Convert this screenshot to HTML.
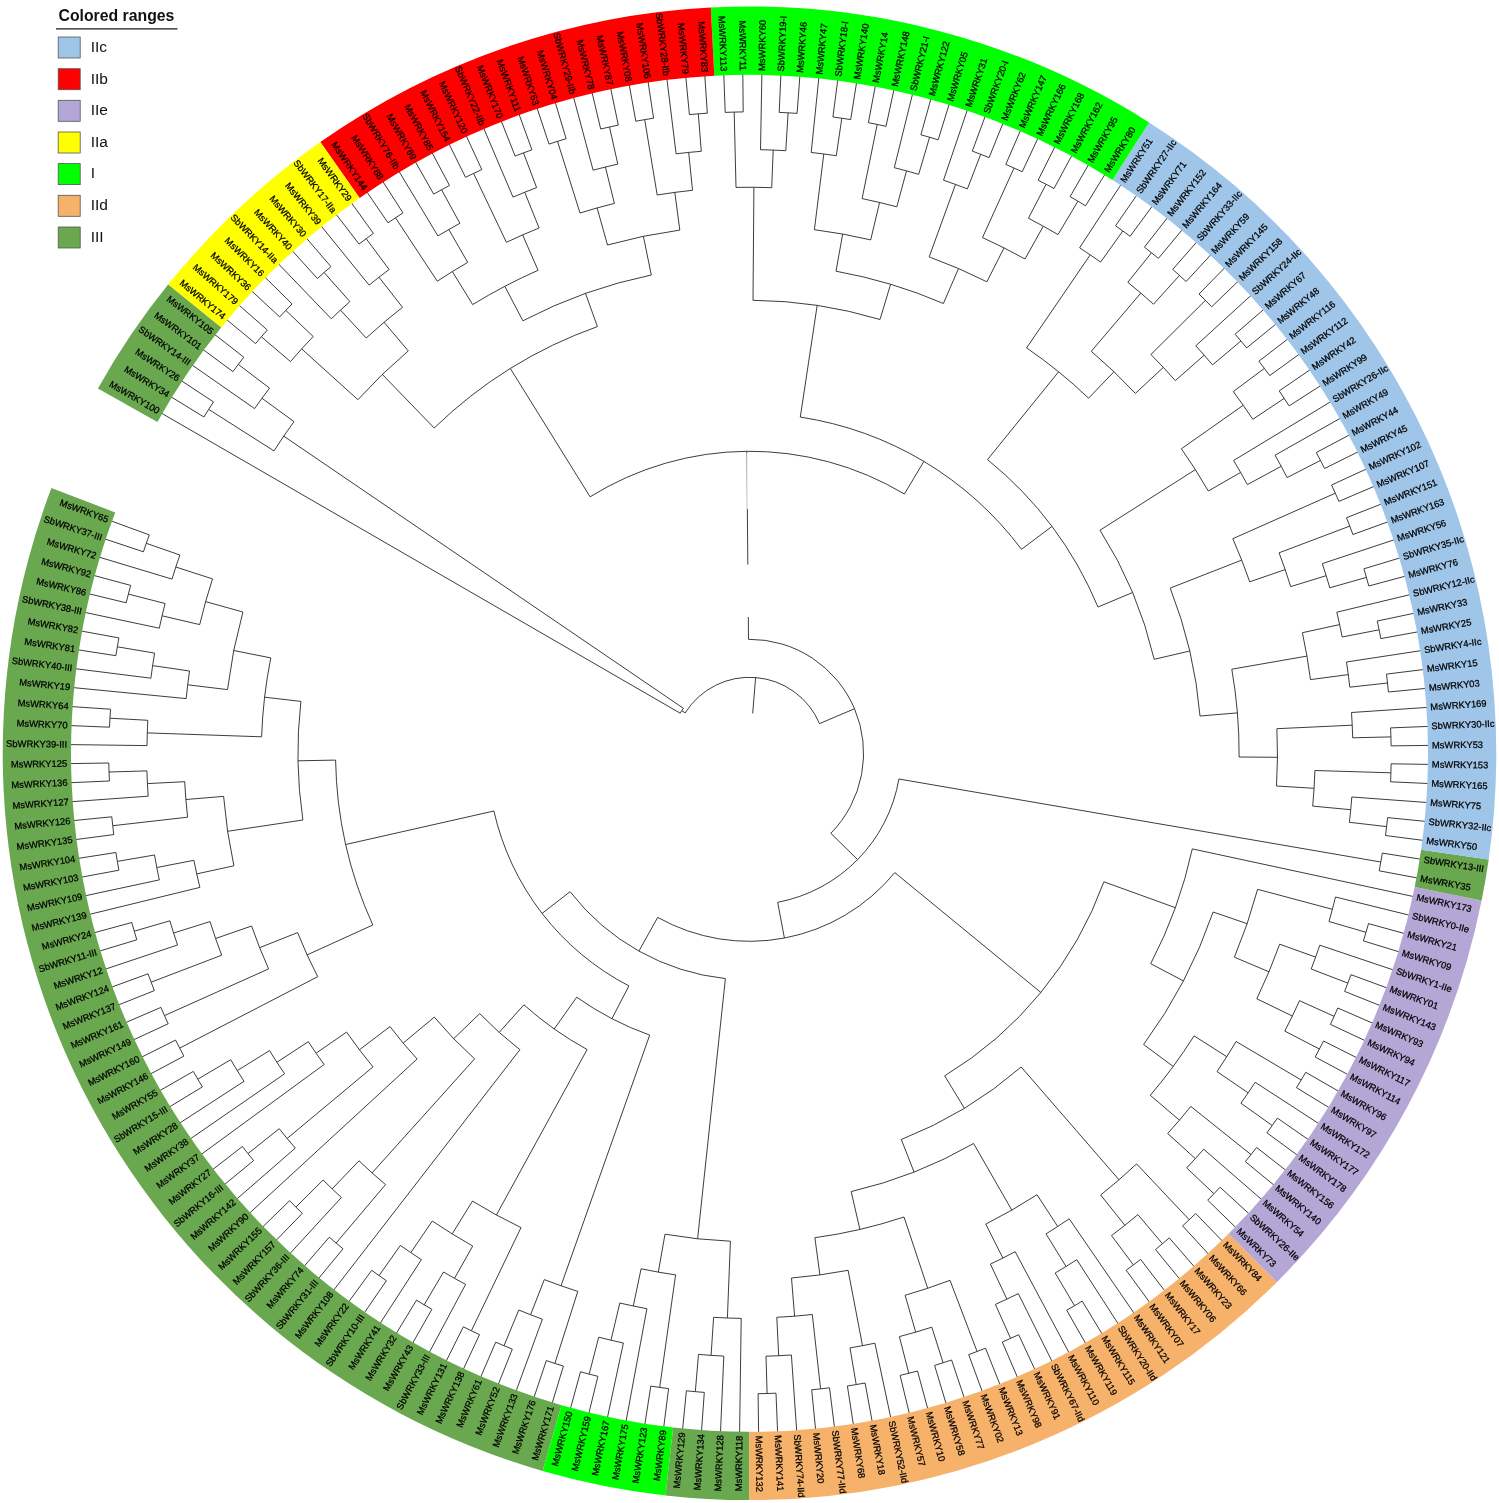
<!DOCTYPE html>
<html><head><meta charset="utf-8"><title>Phylogenetic tree</title>
<style>html,body{margin:0;padding:0;background:#fff}svg{display:block}text{font-family:"Liberation Sans",sans-serif}.lb{font-size:9.4px;fill:#000;stroke:#000;stroke-width:0.25px}.lg{font-size:15.5px;fill:#111}</style></head><body>
<svg width="1499" height="1503" viewBox="0 0 1499 1503">
<rect width="1499" height="1503" fill="#fff"/>
<path d="M143.4 551.8A638.8 638.8 0 0 1 149.3 534.9M149.3 534.9L111.0 520.9M143.4 551.8L104.7 538.9M172.0 579.1A603.2 603.2 0 0 1 179.9 555.0M179.9 555.0L146.3 543.3M172.0 579.1L99.0 557.1M126.2 602.8A641.2 641.2 0 0 1 130.7 585.4M130.7 585.4L93.7 575.4M126.2 602.8L89.0 593.8M159.3 628.2A603.3 603.3 0 0 1 165.1 603.5M165.1 603.5L128.4 594.1M159.3 628.2L84.8 612.4M199.7 624.6A564.6 564.6 0 0 1 212.5 578.9M212.5 578.9L175.8 567.0M199.7 624.6L162.1 615.8M115.9 655.7A641.1 641.1 0 0 1 118.9 637.9M118.9 637.9L81.1 631.0M115.9 655.7L77.9 649.8M150.9 678.2A603.3 603.3 0 0 1 154.6 653.1M154.6 653.1L117.3 646.8M150.9 678.2L75.3 668.7M186.2 698.6A566.0 566.0 0 0 1 189.5 671.0M189.5 671.0L152.6 665.6M186.2 698.6L73.2 687.6M227.5 689.6A525.9 525.9 0 0 1 242.9 612.0M242.9 612.0L205.6 601.6M227.5 689.6L187.7 684.8M109.5 727.2A640.6 640.6 0 0 1 110.5 709.2M110.5 709.2L71.6 706.6M109.5 727.2L70.6 725.6M147.0 745.6A602.6 602.6 0 0 1 147.8 720.3M147.8 720.3L109.9 718.2M147.0 745.6L70.1 744.6M261.6 736.8A488.1 488.1 0 0 1 270.8 657.9M270.8 657.9L233.7 650.5M261.6 736.8L147.3 732.9M109.4 781.0A640.7 640.7 0 0 1 108.8 763.0M108.8 763.0L70.1 763.6M109.4 781.0L70.6 782.7M148.2 796.2A602.8 602.8 0 0 1 146.9 770.9M146.9 770.9L109.0 772.0M148.2 796.2L71.7 801.7M113.8 834.6A640.9 640.9 0 0 1 111.8 816.8M111.8 816.8L73.3 820.6M113.8 834.6L75.5 839.6M187.6 817.2A565.5 565.5 0 0 1 184.7 781.7M184.7 781.7L147.4 783.6M187.6 817.2L112.8 825.7M118.9 870.2A641.3 641.3 0 0 1 115.9 852.5M115.9 852.5L78.2 858.4M118.9 870.2L81.4 877.2M159.3 879.9A603.6 603.6 0 0 1 154.5 855.0M154.5 855.0L117.4 861.4M159.3 879.9L85.1 895.8M199.9 887.4A565.8 565.8 0 0 1 193.9 860.3M193.9 860.3L156.8 867.5M199.9 887.4L89.4 914.4M233.9 865.8A527.7 527.7 0 0 1 223.6 796.4M223.6 796.4L185.9 799.5M233.9 865.8L196.7 873.9M302.9 820.0A451.6 451.6 0 0 1 300.9 701.4M300.9 701.4L264.6 697.2M302.9 820.0L227.6 831.3M136.8 939.8A640.5 640.5 0 0 1 131.8 922.5M131.8 922.5L94.1 932.8M136.8 939.8L99.4 951.1M177.5 945.0A603.3 603.3 0 0 1 169.9 920.8M169.9 920.8L134.2 931.2M177.5 945.0L105.2 969.2M154.4 990.6A640.7 640.7 0 0 1 148.0 973.8M148.0 973.8L111.5 987.2M154.4 990.6L118.3 1005.0M221.7 955.2A565.1 565.1 0 0 1 210.0 921.6M210.0 921.6L173.6 933.0M221.7 955.2L151.1 982.2M168.2 1023.8A641.1 641.1 0 0 1 160.9 1007.4M160.9 1007.4L125.6 1022.6M168.2 1023.8L133.4 1039.9M268.6 968.9A527.0 527.0 0 0 1 251.6 926.0M251.6 926.0L215.6 938.5M268.6 968.9L164.5 1015.6M183.9 1056.1A641.6 641.6 0 0 1 175.6 1040.1M175.6 1040.1L141.7 1057.1M183.9 1056.1L150.4 1074.0M317.7 976.7A486.2 486.2 0 0 1 297.6 932.6M297.6 932.6L259.6 947.7M317.7 976.7L179.7 1048.1M372.8 925.0A414.0 414.0 0 0 1 335.6 760.1M335.6 760.1L298.0 760.8M372.8 925.0L307.1 954.9M202.4 1086.9A640.8 640.8 0 0 1 193.3 1071.4M193.3 1071.4L159.7 1090.7M202.4 1086.9L169.3 1107.0M244.0 1081.3A602.5 602.5 0 0 1 230.7 1059.7M230.7 1059.7L197.8 1079.2M244.0 1081.3L179.5 1123.2M284.6 1073.8A564.6 564.6 0 0 1 269.5 1050.6M269.5 1050.6L237.3 1070.6M284.6 1073.8L190.1 1139.0M324.1 1064.5A527.1 527.1 0 0 1 308.3 1041.7M308.3 1041.7L276.9 1062.3M324.1 1064.5L201.1 1154.5M253.6 1160.6A641.7 641.7 0 0 1 242.4 1146.5M242.4 1146.5L212.5 1169.7M253.6 1160.6L224.4 1184.6M295.3 1148.1A601.8 601.8 0 0 1 279.2 1128.7M279.2 1128.7L248.0 1153.6M295.3 1148.1L236.7 1199.1M373.0 1066.9A490.0 490.0 0 0 1 346.6 1032.1M346.6 1032.1L316.1 1053.2M373.0 1066.9L287.1 1138.5M417.1 1059.0A451.6 451.6 0 0 1 390.0 1026.6M390.0 1026.6L359.4 1049.8M417.1 1059.0L249.4 1213.3M302.3 1213.4A641.6 641.6 0 0 1 289.6 1200.7M289.6 1200.7L262.5 1227.1M302.3 1213.4L275.9 1240.6M341.4 1197.5A603.3 603.3 0 0 1 323.1 1180.0M323.1 1180.0L295.9 1207.1M341.4 1197.5L289.8 1253.7M343.0 1248.8A640.9 640.9 0 0 1 329.3 1237.2M329.3 1237.2L304.0 1266.4M343.0 1248.8L318.5 1278.6M385.5 1184.6A564.4 564.4 0 0 1 359.0 1160.8M359.0 1160.8L332.1 1188.9M385.5 1184.6L336.1 1243.1M474.6 1058.9A411.0 411.0 0 0 1 434.3 1017.1M434.3 1017.1L403.2 1043.1M474.6 1058.9L372.1 1172.9M519.9 1049.7A374.9 374.9 0 0 1 479.7 1013.6M479.7 1013.6L453.7 1038.7M519.9 1049.7L333.4 1290.5M386.4 1280.7A640.3 640.3 0 0 1 371.7 1270.3M371.7 1270.3L348.6 1302.0M386.4 1280.7L364.2 1313.0M421.4 1259.6A603.3 603.3 0 0 1 400.4 1245.4M400.4 1245.4L379.0 1275.6M421.4 1259.6L380.0 1323.5M431.9 1309.3A640.3 640.3 0 0 1 416.5 1300.2M416.5 1300.2L396.1 1333.7M431.9 1309.3L412.5 1343.3M465.6 1284.4A602.3 602.3 0 0 1 443.5 1272.0M443.5 1272.0L424.2 1304.8M465.6 1284.4L429.2 1352.6M472.7 1246.0A565.1 565.1 0 0 1 432.3 1221.0M432.3 1221.0L410.8 1252.6M472.7 1246.0L454.5 1278.4M479.5 1334.6A640.9 640.9 0 0 1 463.3 1326.8M463.3 1326.8L446.1 1361.3M479.5 1334.6L463.2 1369.6M521.0 1227.6A526.5 526.5 0 0 1 472.5 1201.1M472.5 1201.1L452.2 1233.9M521.0 1227.6L471.4 1330.7M587.1 1049.5A337.8 337.8 0 0 1 523.9 1004.8M523.9 1004.8L499.2 1032.4M587.1 1049.5L496.4 1215.0M512.3 1349.1A641.3 641.3 0 0 1 495.7 1342.2M495.7 1342.2L480.6 1377.3M512.3 1349.1L498.2 1384.6M542.4 1319.2A602.6 602.6 0 0 1 518.8 1310.0M518.8 1310.0L504.0 1345.7M542.4 1319.2L516.0 1391.4M563.4 1366.1A640.4 640.4 0 0 1 546.3 1360.6M546.3 1360.6L533.9 1397.7M563.4 1366.1L552.1 1403.5M577.8 1291.4A564.9 564.9 0 0 1 544.3 1279.6M544.3 1279.6L530.6 1314.7M577.8 1291.4L554.9 1363.4M649.7 1035.1A298.9 298.9 0 0 1 576.7 997.2M576.7 997.2L554.2 1029.0M649.7 1035.1L561.0 1285.8M628.9 985.9A262.0 262.0 0 0 1 493.9 811.0M493.9 811.0L345.7 844.5M628.9 985.9L611.9 1018.7M597.9 1376.3A641.2 641.2 0 0 1 580.5 1371.8M580.5 1371.8L570.4 1408.8M597.9 1376.3L588.8 1413.5M623.4 1343.0A603.0 603.0 0 0 1 598.7 1337.2M598.7 1337.2L589.2 1374.1M623.4 1343.0L607.4 1417.8M646.9 1308.7A564.8 564.8 0 0 1 619.8 1303.0M619.8 1303.0L611.0 1340.2M646.9 1308.7L626.0 1421.5M668.6 1388.6A640.5 640.5 0 0 1 650.8 1386.1M650.8 1386.1L644.8 1424.7M668.6 1388.6L663.7 1427.4M675.6 1274.9A526.8 526.8 0 0 1 641.1 1268.8M641.1 1268.8L633.3 1306.0M675.6 1274.9L659.7 1387.4M704.3 1392.4A640.7 640.7 0 0 1 686.4 1390.8M686.4 1390.8L682.6 1429.5M704.3 1392.4L701.5 1431.1M723.8 1356.1A603.3 603.3 0 0 1 698.5 1354.4M698.5 1354.4L695.3 1391.7M723.8 1356.1L720.5 1432.2M741.2 1318.4A565.1 565.1 0 0 1 713.6 1317.3M713.6 1317.3L711.1 1355.4M741.2 1318.4L739.6 1432.7M730.4 1241.2A488.2 488.2 0 0 1 665.0 1234.2M665.0 1234.2L658.3 1272.1M730.4 1241.2L727.4 1318.0M725.4 978.6A226.6 226.6 0 0 1 570.1 891.7M570.1 891.7L542.1 913.4M725.4 978.6L697.6 1238.8M776.0 1393.2A640.5 640.5 0 0 1 758.1 1393.7M758.1 1393.7L758.6 1432.7M776.0 1393.2L777.6 1432.2M791.4 1355.0A603.1 603.1 0 0 1 766.0 1356.2M766.0 1356.2L767.1 1393.5M791.4 1355.0L796.7 1431.2M829.5 1387.8A639.6 639.6 0 0 1 811.7 1389.8M811.7 1389.8L815.6 1429.6M829.5 1387.8L834.5 1427.5M812.3 1314.5A564.7 564.7 0 0 1 776.8 1317.3M776.8 1317.3L778.7 1355.7M812.3 1314.5L820.6 1388.9M865.1 1383.0A640.2 640.2 0 0 1 847.4 1386.0M847.4 1386.0L853.4 1424.8M865.1 1383.0L872.2 1421.6M874.9 1343.2A603.1 603.1 0 0 1 850.0 1347.9M850.0 1347.9L856.2 1384.5M874.9 1343.2L890.8 1417.9M848.1 1270.3A526.3 526.3 0 0 1 791.5 1278.0M791.5 1278.0L794.6 1316.2M848.1 1270.3L862.5 1345.7M917.5 1371.0A640.1 640.1 0 0 1 900.1 1375.4M900.1 1375.4L909.4 1413.7M917.5 1371.0L927.8 1409.0M951.6 1360.0A639.5 639.5 0 0 1 934.6 1365.4M934.6 1365.4L946.1 1403.7M951.6 1360.0L964.3 1398.0M931.8 1327.2A602.2 602.2 0 0 1 899.4 1336.6M899.4 1336.6L908.8 1373.3M931.8 1327.2L943.1 1362.8M985.5 1348.2A640.0 640.0 0 0 1 968.7 1354.6M968.7 1354.6L982.3 1391.7M985.5 1348.2L1000.1 1384.9M950.0 1280.3A563.9 563.9 0 0 1 905.1 1295.3M905.1 1295.3L915.7 1332.1M950.0 1280.3L977.1 1351.5M904.0 1217.0A488.8 488.8 0 0 1 814.9 1237.7M814.9 1237.7L819.9 1274.9M904.0 1217.0L927.7 1288.3M1018.7 1334.7A640.7 640.7 0 0 1 1002.3 1342.0M1002.3 1342.0L1017.6 1377.7M1018.7 1334.7L1035.0 1369.9M1018.3 1293.6A603.5 603.5 0 0 1 995.4 1304.4M995.4 1304.4L1010.6 1338.4M1018.3 1293.6L1052.2 1361.7M1015.2 1251.7A564.8 564.8 0 0 1 990.4 1264.1M990.4 1264.1L1006.9 1299.1M1015.2 1251.7L1069.1 1352.9M1082.2 1301.1A640.9 640.9 0 0 1 1066.7 1310.2M1066.7 1310.2L1085.8 1343.7M1082.2 1301.1L1102.2 1334.1M1076.8 1259.7A603.0 603.0 0 0 1 1055.2 1273.0M1055.2 1273.0L1074.5 1305.7M1076.8 1259.7L1118.3 1324.0M1069.2 1218.8A564.7 564.7 0 0 1 1046.0 1233.9M1046.0 1233.9L1066.1 1266.5M1069.2 1218.8L1134.2 1313.4M1037.0 1194.7A526.7 526.7 0 0 1 985.8 1224.1M985.8 1224.1L1002.9 1258.1M1037.0 1194.7L1057.7 1226.5M973.6 1143.5A450.0 450.0 0 0 1 851.2 1191.6M851.2 1191.6L859.9 1229.4M973.6 1143.5L1011.8 1210.1M1140.6 1259.4A639.6 639.6 0 0 1 1126.2 1270.2M1126.2 1270.2L1149.7 1302.4M1140.6 1259.4L1164.9 1291.0M1169.3 1237.9A641.1 641.1 0 0 1 1155.5 1249.5M1155.5 1249.5L1179.8 1279.2M1169.3 1237.9L1194.4 1266.9M1137.9 1214.6A603.1 603.1 0 0 1 1111.5 1235.6M1111.5 1235.6L1133.4 1264.9M1137.9 1214.6L1162.4 1243.7M1195.7 1213.5A641.0 641.0 0 0 1 1182.6 1225.9M1182.6 1225.9L1208.6 1254.2M1195.7 1213.5L1222.5 1241.2M1136.6 1163.9A564.3 564.3 0 0 1 1100.7 1195.0M1100.7 1195.0L1124.9 1225.3M1136.6 1163.9L1189.2 1219.7M1021.2 1067.0A415.0 415.0 0 0 1 901.3 1139.5M901.3 1139.5L914.1 1172.1M1021.2 1067.0L1119.0 1179.8M1220.1 1187.2A640.1 640.1 0 0 1 1207.7 1200.2M1207.7 1200.2L1236.0 1227.7M1220.1 1187.2L1249.1 1213.9M1203.7 1149.2A602.5 602.5 0 0 1 1186.7 1167.9M1186.7 1167.9L1213.9 1193.7M1203.7 1149.2L1261.8 1199.7M1256.6 1147.5A642.3 642.3 0 0 1 1245.3 1161.6M1245.3 1161.6L1274.1 1185.2M1256.6 1147.5L1286.0 1170.4M1190.8 1106.4A565.2 565.2 0 0 1 1167.7 1133.5M1167.7 1133.5L1195.3 1158.6M1190.8 1106.4L1251.0 1154.6M1277.4 1118.1A641.7 641.7 0 0 1 1266.9 1132.8M1266.9 1132.8L1297.4 1155.2M1277.4 1118.1L1308.5 1139.7M1255.2 1082.3A603.2 603.2 0 0 1 1240.9 1103.2M1240.9 1103.2L1272.2 1125.5M1255.2 1082.3L1319.1 1123.8M1305.7 1072.3A641.2 641.2 0 0 1 1296.5 1087.7M1296.5 1087.7L1329.2 1107.7M1305.7 1072.3L1338.9 1091.4M1236.1 1041.5A565.6 565.6 0 0 1 1217.0 1071.6M1217.0 1071.6L1248.1 1092.8M1236.1 1041.5L1301.2 1080.0M1194.1 1035.9A526.8 526.8 0 0 1 1150.3 1095.3M1150.3 1095.3L1179.4 1120.1M1194.1 1035.9L1226.8 1056.7M1323.5 1041.0A642.0 642.0 0 0 1 1315.2 1057.0M1315.2 1057.0L1348.2 1074.7M1323.5 1041.0L1356.9 1057.8M1337.8 1008.0A641.1 641.1 0 0 1 1330.4 1024.4M1330.4 1024.4L1365.2 1040.7M1337.8 1008.0L1373.0 1023.3M1299.5 1000.7A603.0 603.0 0 0 1 1284.8 1031.1M1284.8 1031.1L1319.4 1049.0M1299.5 1000.7L1334.1 1016.3M1351.0 974.7A640.9 640.9 0 0 1 1344.6 991.4M1344.6 991.4L1380.4 1005.7M1351.0 974.7L1387.2 988.0M1319.8 945.2A601.7 601.7 0 0 1 1311.2 969.0M1311.2 969.0L1347.8 983.1M1319.8 945.2L1393.5 970.0M1279.7 944.2A563.6 563.6 0 0 1 1256.8 998.8M1256.8 998.8L1292.3 1016.0M1279.7 944.2L1315.6 957.1M1368.5 923.6A642.0 642.0 0 0 1 1363.4 940.9M1363.4 940.9L1399.3 951.9M1368.5 923.6L1404.6 933.6M1335.5 897.0A603.4 603.4 0 0 1 1329.0 921.5M1329.0 921.5L1366.0 932.3M1335.5 897.0L1409.4 915.2M1257.6 889.3A526.0 526.0 0 0 1 1234.4 957.2M1234.4 957.2L1269.0 971.8M1257.6 889.3L1332.4 909.3M1213.1 912.0A490.0 490.0 0 0 1 1143.6 1044.5M1143.6 1044.5L1173.2 1066.4M1213.1 912.0L1247.2 923.7M1192.3 848.9A453.0 453.0 0 0 1 1150.7 963.7M1150.7 963.7L1183.4 980.9M1192.3 848.9L1413.7 896.6M1103.9 881.8A377.0 377.0 0 0 1 944.7 1075.8M944.7 1075.8L964.4 1108.3M1103.9 881.8L1175.4 907.7M894.8 872.6A188.0 188.0 0 0 1 657.7 917.4M657.7 917.4L638.9 951.1M894.8 872.6L1040.9 992.5M1382.3 853.1A640.6 640.6 0 0 1 1379.2 870.8M1379.2 870.8L1417.5 878.0M1382.3 853.1L1420.7 859.2M898.9 779.0A151.6 151.6 0 0 1 777.7 902.3M777.7 902.3L784.4 938.0M898.9 779.0L1380.8 862.0M1387.6 817.6A641.3 641.3 0 0 1 1385.5 835.5M1385.5 835.5L1423.4 840.4M1387.6 817.6L1425.6 821.4M1351.8 797.0A603.8 603.8 0 0 1 1349.4 822.3M1349.4 822.3L1386.6 826.6M1351.8 797.0L1427.2 802.5M1391.1 763.8A641.7 641.7 0 0 1 1390.6 781.8M1390.6 781.8L1428.3 783.5M1391.1 763.8L1428.9 764.4M1314.9 770.5A565.7 565.7 0 0 1 1312.7 806.1M1312.7 806.1L1350.7 809.7M1314.9 770.5L1390.9 772.8M1390.6 727.9A641.6 641.6 0 0 1 1391.1 745.9M1391.1 745.9L1429.0 745.4M1390.6 727.9L1428.5 726.4M1351.5 712.5A603.4 603.4 0 0 1 1352.7 737.8M1352.7 737.8L1390.9 736.9M1351.5 712.5L1427.4 707.4M1276.9 728.7A528.0 528.0 0 0 1 1276.5 786.0M1276.5 786.0L1314.1 788.3M1276.9 728.7L1352.2 725.2M1386.5 674.1A641.9 641.9 0 0 1 1388.4 692.0M1388.4 692.0L1425.9 688.4M1386.5 674.1L1423.8 669.5M1346.5 662.0A603.9 603.9 0 0 1 1349.8 687.2M1349.8 687.2L1387.5 683.0M1346.5 662.0L1421.2 650.6M1377.3 621.0A641.6 641.6 0 0 1 1380.8 638.6M1380.8 638.6L1418.1 631.8M1377.3 621.0L1414.4 613.2M1336.8 612.2A604.0 604.0 0 0 1 1342.2 637.0M1342.2 637.0L1379.1 629.8M1336.8 612.2L1410.2 594.6M1302.4 632.7A565.9 565.9 0 0 1 1310.5 679.6M1310.5 679.6L1348.3 674.6M1302.4 632.7L1339.6 624.6M1231.8 669.2A489.6 489.6 0 0 1 1239.1 757.0M1239.1 757.0L1277.5 757.3M1231.8 669.2L1306.9 656.1M1363.9 568.8A641.5 641.5 0 0 1 1368.8 586.0M1368.8 586.0L1405.5 576.1M1363.9 568.8L1400.3 557.8M1322.3 563.6A603.4 603.4 0 0 1 1329.8 587.8M1329.8 587.8L1366.4 577.4M1322.3 563.6L1394.5 539.7M1346.5 517.7A641.8 641.8 0 0 1 1352.9 534.5M1352.9 534.5L1388.3 521.7M1346.5 517.7L1381.6 503.9M1279.1 552.8A566.3 566.3 0 0 1 1290.7 586.6M1290.7 586.6L1326.1 575.7M1279.1 552.8L1349.8 526.1M1331.6 485.0A641.0 641.0 0 0 1 1338.9 501.4M1338.9 501.4L1374.3 486.3M1331.6 485.0L1366.6 468.9M1232.8 538.7A528.8 528.8 0 0 1 1249.7 581.8M1249.7 581.8L1285.2 569.6M1232.8 538.7L1335.3 493.2M1170.2 588.1A452.0 452.0 0 0 1 1200.0 716.0M1200.0 716.0L1237.5 712.9M1170.2 588.1L1241.7 560.1M1316.3 452.5A641.7 641.7 0 0 1 1324.6 468.5M1324.6 468.5L1358.4 451.7M1316.3 452.5L1349.7 434.8M1275.1 455.2A604.2 604.2 0 0 1 1287.1 477.6M1287.1 477.6L1320.5 460.4M1275.1 455.2L1340.6 418.1M1233.6 460.5A565.8 565.8 0 0 1 1247.4 484.6M1247.4 484.6L1281.2 466.3M1233.6 460.5L1330.9 401.6M1279.2 390.9A641.8 641.8 0 0 1 1289.1 405.9M1289.1 405.9L1320.9 385.5M1279.2 390.9L1310.3 369.6M1258.9 361.2A642.8 642.8 0 0 1 1269.7 375.6M1269.7 375.6L1299.4 354.1M1258.9 361.2L1288.0 338.8M1233.3 391.6A604.1 604.1 0 0 1 1252.8 419.3M1252.8 419.3L1284.2 398.4M1233.3 391.6L1264.3 368.4M1181.4 448.8A528.5 528.5 0 0 1 1208.3 491.0M1208.3 491.0L1240.7 472.4M1181.4 448.8L1243.2 405.3M1100.0 530.2A415.5 415.5 0 0 1 1154.2 659.3M1154.2 659.3L1189.8 651.0M1100.0 530.2L1195.4 469.6M1235.1 334.2A641.5 641.5 0 0 1 1246.7 347.9M1246.7 347.9L1276.1 323.9M1235.1 334.2L1263.9 309.3M1195.8 345.8A604.3 604.3 0 0 1 1212.5 364.9M1212.5 364.9L1240.9 341.0M1195.8 345.8L1251.3 295.1M1199.0 294.0A642.6 642.6 0 0 1 1211.7 306.8M1211.7 306.8L1238.2 281.2M1199.0 294.0L1224.8 267.7M1150.9 354.5A565.8 565.8 0 0 1 1175.3 380.6M1175.3 380.6L1204.2 355.2M1150.9 354.5L1205.4 300.4M1172.7 269.4A642.9 642.9 0 0 1 1186.1 281.5M1186.1 281.5L1211.0 254.6M1172.7 269.4L1196.9 241.8M1144.4 247.2A642.0 642.0 0 0 1 1158.4 258.4M1158.4 258.4L1182.4 229.5M1144.4 247.2L1167.5 217.6M1127.8 282.3A604.1 604.1 0 0 1 1153.5 304.2M1153.5 304.2L1179.5 275.4M1127.8 282.3L1151.5 252.8M1091.3 351.3A527.7 527.7 0 0 1 1135.4 393.4M1135.4 393.4L1163.3 367.4M1091.3 351.3L1140.8 293.1M1115.5 225.8A642.0 642.0 0 0 1 1130.1 236.3M1130.1 236.3L1152.3 206.1M1115.5 225.8L1136.9 195.0M1079.6 247.8A603.8 603.8 0 0 1 1100.6 262.1M1100.6 262.1L1122.8 231.0M1079.6 247.8L1121.1 184.4M1026.6 347.9A491.0 491.0 0 0 1 1088.6 398.2M1088.6 398.2L1114.0 371.7M1026.6 347.9L1090.2 254.9M987.5 459.6A378.0 378.0 0 0 1 1098.0 607.0M1098.0 607.0L1132.6 592.5M987.5 459.6L1058.6 371.8M1070.1 196.6A642.4 642.4 0 0 1 1085.6 205.8M1085.6 205.8L1105.0 174.2M1070.1 196.6L1088.6 164.5M1038.1 180.2A641.7 641.7 0 0 1 1054.0 188.5M1054.0 188.5L1072.0 155.2M1038.1 180.2L1055.1 146.4M1028.4 218.2A603.5 603.5 0 0 1 1058.0 234.6M1058.0 234.6L1077.9 201.2M1028.4 218.2L1046.1 184.3M1005.8 164.4A642.2 642.2 0 0 1 1022.2 171.8M1022.2 171.8L1038.0 138.1M1005.8 164.4L1020.6 130.2M982.5 237.6A565.9 565.9 0 0 1 1025.0 259.0M1025.0 259.0L1043.3 226.2M982.5 237.6L1014.0 168.1M972.3 151.1A642.1 642.1 0 0 1 989.1 157.6M989.1 157.6L1003.1 122.9M972.3 151.1L985.3 116.0M943.5 180.2A605.0 605.0 0 0 1 967.4 188.9M967.4 188.9L980.7 154.3M943.5 180.2L967.4 109.7M929.2 256.9A527.9 527.9 0 0 1 986.9 281.8M986.9 281.8L1004.0 247.9M929.2 256.9L955.5 184.4M920.9 134.8A641.9 641.9 0 0 1 938.2 139.8M938.2 139.8L949.3 103.8M920.9 134.8L931.0 98.5M894.3 167.7A603.2 603.2 0 0 1 918.7 174.3M918.7 174.3L929.6 137.2M894.3 167.7L912.6 93.7M868.4 122.7A641.7 641.7 0 0 1 886.0 126.3M886.0 126.3L894.0 89.3M868.4 122.7L875.4 85.6M862.1 198.6A566.0 566.0 0 0 1 896.8 206.8M896.8 206.8L906.5 170.9M862.1 198.6L877.2 124.5M832.9 117.0A641.7 641.7 0 0 1 850.7 119.6M850.7 119.6L856.6 82.3M832.9 117.0L837.8 79.6M811.2 152.5A603.9 603.9 0 0 1 836.3 155.7M836.3 155.7L841.8 118.2M811.2 152.5L818.9 77.3M814.4 229.7A527.6 527.6 0 0 1 870.7 239.9M870.7 239.9L879.6 202.4M814.4 229.7L823.8 154.0M836.0 271.2A489.8 489.8 0 0 1 943.4 303.5M943.4 303.5L958.5 268.5M836.0 271.2L842.7 234.0M779.2 112.4A641.6 641.6 0 0 1 797.1 113.4M797.1 113.4L799.9 75.7M779.2 112.4L780.9 74.5M760.5 149.7A603.7 603.7 0 0 1 785.8 150.7M785.8 150.7L788.1 112.8M760.5 149.7L761.9 73.9M725.2 112.4A641.4 641.4 0 0 1 743.2 111.9M743.2 111.9L742.8 73.8M725.2 112.4L723.8 74.3M736.0 187.4A566.0 566.0 0 0 1 771.7 187.7M771.7 187.7L773.2 150.1M736.0 187.4L734.2 112.1M753.0 300.3A453.1 453.1 0 0 1 880.0 319.5M880.0 319.5L890.6 284.3M753.0 300.3L753.9 187.3M800.3 417.1A340.0 340.0 0 0 1 1021.5 549.3M1021.5 549.3L1051.9 526.5M800.3 417.1L817.2 305.3M689.4 114.6A641.5 641.5 0 0 1 707.3 113.2M707.3 113.2L704.8 75.3M689.4 114.6L685.8 76.8M676.1 153.8A603.9 603.9 0 0 1 701.3 151.3M701.3 151.3L698.3 113.8M676.1 153.8L666.9 78.8M635.8 121.2A642.3 642.3 0 0 1 653.6 118.2M653.6 118.2L648.0 81.4M635.8 121.2L629.2 84.5M657.2 195.0A565.8 565.8 0 0 1 692.5 190.3M692.5 190.3L688.7 152.4M657.2 195.0L644.7 119.6M600.7 129.0A641.8 641.8 0 0 1 618.3 125.1M618.3 125.1L610.6 88.2M600.7 129.0L592.0 92.3M593.1 170.2A603.7 603.7 0 0 1 617.8 164.1M617.8 164.1L609.5 127.0M593.1 170.2L573.5 97.0M549.0 144.1A641.4 641.4 0 0 1 566.1 138.7M566.1 138.7L555.2 102.2M549.0 144.1L537.0 107.9M580.0 213.0A566.3 566.3 0 0 1 614.4 203.4M614.4 203.4L605.4 167.0M580.0 213.0L557.5 141.3M607.5 245.0A527.8 527.8 0 0 1 679.8 230.1M679.8 230.1L674.8 192.4M607.5 245.0L597.1 207.9M515.1 156.1A641.5 641.5 0 0 1 531.9 149.8M531.9 149.8L519.0 114.1M515.1 156.1L501.2 120.8M513.0 197.1A604.4 604.4 0 0 1 536.6 187.6M536.6 187.6L523.5 152.9M513.0 197.1L483.6 128.0M465.5 177.3A642.2 642.2 0 0 1 481.8 169.6M481.8 169.6L466.2 135.7M465.5 177.3L449.0 143.9M506.4 242.3A565.9 565.9 0 0 1 539.1 228.0M539.1 228.0L524.7 192.2M506.4 242.3L473.6 173.4M433.7 194.1A642.2 642.2 0 0 1 449.5 185.5M449.5 185.5L432.0 152.5M433.7 194.1L415.3 161.6M437.9 235.9A604.0 604.0 0 0 1 459.9 223.3M459.9 223.3L441.5 189.7M437.9 235.9L398.9 171.2M388.0 222.8A641.9 641.9 0 0 1 403.0 212.9M403.0 212.9L382.7 181.3M388.0 222.8L366.8 191.8M437.3 281.2A566.0 566.0 0 0 1 467.7 262.4M467.7 262.4L448.8 229.5M437.3 281.2L395.5 217.8M472.7 304.6A527.2 527.2 0 0 1 538.1 270.3M538.1 270.3L522.6 234.9M472.7 304.6L452.4 271.6M522.9 320.8A488.3 488.3 0 0 1 651.3 275.0M651.3 275.0L643.4 236.3M522.9 320.8L504.8 286.3M359.0 244.1A641.6 641.6 0 0 1 373.4 233.4M373.4 233.4L351.3 202.7M359.0 244.1L336.0 214.1M369.1 285.1A603.3 603.3 0 0 1 389.1 269.5M389.1 269.5L366.2 238.7M369.1 285.1L321.1 225.9M317.4 278.5A642.0 642.0 0 0 1 330.9 266.6M330.9 266.6L306.4 238.1M317.4 278.5L292.2 250.7M331.3 318.8A603.0 603.0 0 0 1 349.9 301.6M349.9 301.6L324.1 272.5M331.3 318.8L278.3 263.7M366.2 338.0A565.2 565.2 0 0 1 402.5 307.3M402.5 307.3L379.0 277.2M366.2 338.0L340.5 310.1M279.7 316.9A641.2 641.2 0 0 1 292.1 303.9M292.1 303.9L264.8 277.1M279.7 316.9L251.6 290.9M255.6 343.6A641.7 641.7 0 0 1 267.3 330.0M267.3 330.0L238.9 305.0M255.6 343.6L226.5 319.5M290.5 361.6A603.4 603.4 0 0 1 313.2 336.5M313.2 336.5L285.8 310.4M290.5 361.6L261.4 336.8M357.9 399.7A527.6 527.6 0 0 1 408.3 350.9M408.3 350.9L384.0 322.2M357.9 399.7L301.7 348.9M434.2 428.0A453.0 453.0 0 0 1 597.4 326.6M597.4 326.6L585.5 293.4M434.2 428.0L382.3 374.4M590.1 496.8A302.0 302.0 0 0 1 904.4 494.0M904.4 494.0L923.9 461.4M590.1 496.8L510.4 368.6M748.5 639.3A114.0 114.0 0 0 1 830.8 833.3M830.8 833.3L857.6 859.6M748.5 639.3L746.8 451.3M232.9 371.6A642.3 642.3 0 0 1 243.8 357.2M243.8 357.2L214.5 334.3M232.9 371.6L203.0 349.5M254.6 408.6A603.1 603.1 0 0 1 269.5 388.1M269.5 388.1L238.3 364.4M254.6 408.6L191.9 364.9M203.9 417.0A640.9 640.9 0 0 1 213.5 401.9M213.5 401.9L181.3 380.7M203.9 417.0L171.0 396.8M274.0 450.9A563.5 563.5 0 0 1 294.0 421.6M294.0 421.6L262.0 398.3M274.0 450.9L208.7 409.4M680.2 713.2A80.0 80.0 0 0 1 683.4 708.3M683.4 708.3L283.7 436.1M680.2 713.2L161.3 413.1M685.2 712.9A76.0 76.0 0 0 1 819.5 723.6M819.5 723.6L854.4 708.8M685.2 712.9L681.8 710.7M755.6 677.5L752.7 713.4" fill="none" stroke="#1a1a1a" stroke-width="0.85"/>
<path d="M748.5 453V509" stroke="#fff" stroke-width="4" opacity="0.8"/>
<path d="M749 564.5V617" stroke="#fff" stroke-width="4"/>
<path d="M542.6 1470.9A746.8 746.8 0 0 1 51.4 488.1L115.2 512.4A678.5 678.5 0 0 0 561.5 1405.2Z" fill="#6aa84f"/>
<path d="M665.5 1495.4A746.8 746.8 0 0 1 542.6 1470.9L561.5 1405.2A678.5 678.5 0 0 0 673.2 1427.5Z" fill="#00ff00"/>
<path d="M749.1 1500.1A746.8 746.8 0 0 1 665.5 1495.4L673.2 1427.5A678.5 678.5 0 0 0 749.1 1431.8Z" fill="#6aa84f"/>
<path d="M1276.8 1282.2A746.8 746.8 0 0 1 749.1 1500.1L749.1 1431.8A678.5 678.5 0 0 0 1228.6 1233.8Z" fill="#f6b26b"/>
<path d="M1481.6 900.6A746.8 746.8 0 0 1 1276.8 1282.2L1228.6 1233.8A678.5 678.5 0 0 0 1414.7 887.1Z" fill="#b4a7d6"/>
<path d="M1488.7 859.4A746.8 746.8 0 0 1 1481.6 900.6L1414.7 887.1A678.5 678.5 0 0 0 1421.1 849.7Z" fill="#6aa84f"/>
<path d="M1149.1 122.4A746.8 746.8 0 0 1 1488.7 859.4L1421.1 849.7A678.5 678.5 0 0 0 1112.5 180.1Z" fill="#9fc5e8"/>
<path d="M710.8 7.5A746.8 746.8 0 0 1 1149.1 122.4L1112.5 180.1A678.5 678.5 0 0 0 714.3 75.7Z" fill="#00ff00"/>
<path d="M320.3 142.1A746.8 746.8 0 0 1 710.8 7.5L714.3 75.7A678.5 678.5 0 0 0 359.6 198.0Z" fill="#ff0000"/>
<path d="M168.1 284.6A746.8 746.8 0 0 1 320.3 142.1L359.6 198.0A678.5 678.5 0 0 0 221.2 327.5Z" fill="#ffff00"/>
<path d="M97.9 388.5A746.8 746.8 0 0 1 168.1 284.6L221.2 327.5A678.5 678.5 0 0 0 157.4 421.9Z" fill="#6aa84f"/>
<g class="lb">
<text transform="translate(108.1 519.9) rotate(20.00)" text-anchor="end" dy="0.32em">MsWRKY65</text>
<text transform="translate(101.9 538.0) rotate(18.39)" text-anchor="end" dy="0.32em">SbWRKY37-III</text>
<text transform="translate(96.1 556.2) rotate(16.79)" text-anchor="end" dy="0.32em">MsWRKY72</text>
<text transform="translate(90.8 574.6) rotate(15.18)" text-anchor="end" dy="0.32em">MsWRKY92</text>
<text transform="translate(86.1 593.1) rotate(13.58)" text-anchor="end" dy="0.32em">MsWRKY86</text>
<text transform="translate(81.8 611.7) rotate(11.97)" text-anchor="end" dy="0.32em">SbWRKY38-III</text>
<text transform="translate(78.1 630.5) rotate(10.37)" text-anchor="end" dy="0.32em">MsWRKY82</text>
<text transform="translate(75.0 649.4) rotate(8.76)" text-anchor="end" dy="0.32em">MsWRKY81</text>
<text transform="translate(72.3 668.3) rotate(7.15)" text-anchor="end" dy="0.32em">SbWRKY40-III</text>
<text transform="translate(70.2 687.3) rotate(5.55)" text-anchor="end" dy="0.32em">MsWRKY19</text>
<text transform="translate(68.6 706.4) rotate(3.94)" text-anchor="end" dy="0.32em">MsWRKY64</text>
<text transform="translate(67.6 725.4) rotate(2.34)" text-anchor="end" dy="0.32em">MsWRKY70</text>
<text transform="translate(67.1 744.6) rotate(0.73)" text-anchor="end" dy="0.32em">SbWRKY39-III</text>
<text transform="translate(67.1 763.7) rotate(-0.87)" text-anchor="end" dy="0.32em">MsWRKY125</text>
<text transform="translate(67.6 782.8) rotate(-2.48)" text-anchor="end" dy="0.32em">MsWRKY136</text>
<text transform="translate(68.7 801.9) rotate(-4.08)" text-anchor="end" dy="0.32em">MsWRKY127</text>
<text transform="translate(70.4 820.9) rotate(-5.69)" text-anchor="end" dy="0.32em">MsWRKY126</text>
<text transform="translate(72.5 839.9) rotate(-7.29)" text-anchor="end" dy="0.32em">MsWRKY135</text>
<text transform="translate(75.2 858.9) rotate(-8.90)" text-anchor="end" dy="0.32em">MsWRKY104</text>
<text transform="translate(78.4 877.7) rotate(-10.50)" text-anchor="end" dy="0.32em">MsWRKY103</text>
<text transform="translate(82.2 896.5) rotate(-12.11)" text-anchor="end" dy="0.32em">MsWRKY109</text>
<text transform="translate(86.5 915.1) rotate(-13.71)" text-anchor="end" dy="0.32em">MsWRKY139</text>
<text transform="translate(91.3 933.6) rotate(-15.32)" text-anchor="end" dy="0.32em">MsWRKY24</text>
<text transform="translate(96.6 952.0) rotate(-16.92)" text-anchor="end" dy="0.32em">SbWRKY11-III</text>
<text transform="translate(102.4 970.2) rotate(-18.53)" text-anchor="end" dy="0.32em">MsWRKY12</text>
<text transform="translate(108.7 988.2) rotate(-20.14)" text-anchor="end" dy="0.32em">MsWRKY124</text>
<text transform="translate(115.5 1006.1) rotate(-21.74)" text-anchor="end" dy="0.32em">MsWRKY137</text>
<text transform="translate(122.9 1023.8) rotate(-23.35)" text-anchor="end" dy="0.32em">MsWRKY161</text>
<text transform="translate(130.7 1041.2) rotate(-24.95)" text-anchor="end" dy="0.32em">MsWRKY149</text>
<text transform="translate(139.0 1058.4) rotate(-26.56)" text-anchor="end" dy="0.32em">MsWRKY160</text>
<text transform="translate(147.8 1075.4) rotate(-28.16)" text-anchor="end" dy="0.32em">MsWRKY146</text>
<text transform="translate(157.1 1092.1) rotate(-29.77)" text-anchor="end" dy="0.32em">MsWRKY55</text>
<text transform="translate(166.8 1108.6) rotate(-31.37)" text-anchor="end" dy="0.32em">SbWRKY15-III</text>
<text transform="translate(177.0 1124.8) rotate(-32.98)" text-anchor="end" dy="0.32em">MsWRKY28</text>
<text transform="translate(187.6 1140.7) rotate(-34.58)" text-anchor="end" dy="0.32em">MsWRKY38</text>
<text transform="translate(198.7 1156.3) rotate(-36.19)" text-anchor="end" dy="0.32em">MsWRKY37</text>
<text transform="translate(210.2 1171.5) rotate(-37.79)" text-anchor="end" dy="0.32em">MsWRKY27</text>
<text transform="translate(222.1 1186.5) rotate(-39.40)" text-anchor="end" dy="0.32em">SbWRKY16-III</text>
<text transform="translate(234.4 1201.1) rotate(-41.00)" text-anchor="end" dy="0.32em">MsWRKY142</text>
<text transform="translate(247.2 1215.3) rotate(-42.61)" text-anchor="end" dy="0.32em">MsWRKY90</text>
<text transform="translate(260.3 1229.2) rotate(-44.21)" text-anchor="end" dy="0.32em">MsWRKY155</text>
<text transform="translate(273.9 1242.8) rotate(-45.82)" text-anchor="end" dy="0.32em">MsWRKY157</text>
<text transform="translate(287.8 1255.9) rotate(-47.43)" text-anchor="end" dy="0.32em">SbWRKY36-III</text>
<text transform="translate(302.0 1268.6) rotate(-49.03)" text-anchor="end" dy="0.32em">MsWRKY74</text>
<text transform="translate(316.6 1281.0) rotate(-50.64)" text-anchor="end" dy="0.32em">SbWRKY31-III</text>
<text transform="translate(331.6 1292.9) rotate(-52.24)" text-anchor="end" dy="0.32em">MsWRKY108</text>
<text transform="translate(346.9 1304.4) rotate(-53.85)" text-anchor="end" dy="0.32em">MsWRKY22</text>
<text transform="translate(362.5 1315.4) rotate(-55.45)" text-anchor="end" dy="0.32em">SbWRKY10-III</text>
<text transform="translate(378.4 1326.1) rotate(-57.06)" text-anchor="end" dy="0.32em">MsWRKY41</text>
<text transform="translate(394.5 1336.2) rotate(-58.66)" text-anchor="end" dy="0.32em">MsWRKY32</text>
<text transform="translate(411.0 1345.9) rotate(-60.27)" text-anchor="end" dy="0.32em">MsWRKY43</text>
<text transform="translate(427.8 1355.2) rotate(-61.87)" text-anchor="end" dy="0.32em">SbWRKY33-III</text>
<text transform="translate(444.7 1364.0) rotate(-63.48)" text-anchor="end" dy="0.32em">MsWRKY131</text>
<text transform="translate(462.0 1372.3) rotate(-65.08)" text-anchor="end" dy="0.32em">MsWRKY138</text>
<text transform="translate(479.4 1380.1) rotate(-66.69)" text-anchor="end" dy="0.32em">MsWRKY61</text>
<text transform="translate(497.1 1387.4) rotate(-68.29)" text-anchor="end" dy="0.32em">MsWRKY52</text>
<text transform="translate(514.9 1394.2) rotate(-69.90)" text-anchor="end" dy="0.32em">MsWRKY133</text>
<text transform="translate(533.0 1400.5) rotate(-71.50)" text-anchor="end" dy="0.32em">MsWRKY176</text>
<text transform="translate(551.2 1406.4) rotate(-73.11)" text-anchor="end" dy="0.32em">MsWRKY171</text>
<text transform="translate(569.6 1411.7) rotate(-74.72)" text-anchor="end" dy="0.32em">MsWRKY150</text>
<text transform="translate(588.1 1416.4) rotate(-76.32)" text-anchor="end" dy="0.32em">MsWRKY159</text>
<text transform="translate(606.7 1420.7) rotate(-77.93)" text-anchor="end" dy="0.32em">MsWRKY167</text>
<text transform="translate(625.5 1424.4) rotate(-79.53)" text-anchor="end" dy="0.32em">MsWRKY175</text>
<text transform="translate(644.3 1427.6) rotate(-81.14)" text-anchor="end" dy="0.32em">MsWRKY123</text>
<text transform="translate(663.3 1430.3) rotate(-82.74)" text-anchor="end" dy="0.32em">MsWRKY89</text>
<text transform="translate(682.3 1432.5) rotate(-84.35)" text-anchor="end" dy="0.32em">MsWRKY129</text>
<text transform="translate(701.3 1434.1) rotate(-85.95)" text-anchor="end" dy="0.32em">MsWRKY134</text>
<text transform="translate(720.4 1435.2) rotate(-87.56)" text-anchor="end" dy="0.32em">MsWRKY128</text>
<text transform="translate(739.5 1435.7) rotate(-89.16)" text-anchor="end" dy="0.32em">MsWRKY118</text>
<text transform="translate(758.7 1435.7) rotate(89.23)" text-anchor="start" dy="0.32em">MsWRKY132</text>
<text transform="translate(777.8 1435.2) rotate(87.63)" text-anchor="start" dy="0.32em">MsWRKY141</text>
<text transform="translate(796.9 1434.2) rotate(86.02)" text-anchor="start" dy="0.32em">SbWRKY74-IId</text>
<text transform="translate(815.9 1432.6) rotate(84.42)" text-anchor="start" dy="0.32em">MsWRKY20</text>
<text transform="translate(834.9 1430.4) rotate(82.81)" text-anchor="start" dy="0.32em">SbWRKY77-IId</text>
<text transform="translate(853.9 1427.8) rotate(81.21)" text-anchor="start" dy="0.32em">MsWRKY68</text>
<text transform="translate(872.7 1424.6) rotate(79.60)" text-anchor="start" dy="0.32em">MsWRKY18</text>
<text transform="translate(891.5 1420.9) rotate(77.99)" text-anchor="start" dy="0.32em">SbWRKY52-IId</text>
<text transform="translate(910.1 1416.6) rotate(76.39)" text-anchor="start" dy="0.32em">MsWRKY57</text>
<text transform="translate(928.6 1411.9) rotate(74.78)" text-anchor="start" dy="0.32em">MsWRKY10</text>
<text transform="translate(947.0 1406.6) rotate(73.18)" text-anchor="start" dy="0.32em">MsWRKY58</text>
<text transform="translate(965.2 1400.8) rotate(71.57)" text-anchor="start" dy="0.32em">MsWRKY77</text>
<text transform="translate(983.3 1394.5) rotate(69.97)" text-anchor="start" dy="0.32em">MsWRKY02</text>
<text transform="translate(1001.2 1387.7) rotate(68.36)" text-anchor="start" dy="0.32em">MsWRKY13</text>
<text transform="translate(1018.8 1380.4) rotate(66.76)" text-anchor="start" dy="0.32em">MsWRKY98</text>
<text transform="translate(1036.3 1372.6) rotate(65.15)" text-anchor="start" dy="0.32em">MsWRKY91</text>
<text transform="translate(1053.5 1364.3) rotate(63.55)" text-anchor="start" dy="0.32em">SbWRKY67-IId</text>
<text transform="translate(1070.5 1355.6) rotate(61.94)" text-anchor="start" dy="0.32em">MsWRKY110</text>
<text transform="translate(1087.3 1346.4) rotate(60.34)" text-anchor="start" dy="0.32em">MsWRKY119</text>
<text transform="translate(1103.8 1336.7) rotate(58.73)" text-anchor="start" dy="0.32em">MsWRKY115</text>
<text transform="translate(1120.0 1326.5) rotate(57.13)" text-anchor="start" dy="0.32em">SbWRKY20-IId</text>
<text transform="translate(1135.9 1315.9) rotate(55.52)" text-anchor="start" dy="0.32em">MsWRKY121</text>
<text transform="translate(1151.5 1304.9) rotate(53.92)" text-anchor="start" dy="0.32em">MsWRKY07</text>
<text transform="translate(1166.8 1293.4) rotate(52.31)" text-anchor="start" dy="0.32em">MsWRKY17</text>
<text transform="translate(1181.7 1281.5) rotate(50.70)" text-anchor="start" dy="0.32em">MsWRKY06</text>
<text transform="translate(1196.4 1269.2) rotate(49.10)" text-anchor="start" dy="0.32em">MsWRKY23</text>
<text transform="translate(1210.6 1256.4) rotate(47.49)" text-anchor="start" dy="0.32em">MsWRKY66</text>
<text transform="translate(1224.6 1243.3) rotate(45.89)" text-anchor="start" dy="0.32em">MsWRKY84</text>
<text transform="translate(1238.1 1229.8) rotate(44.28)" text-anchor="start" dy="0.32em">MsWRKY73</text>
<text transform="translate(1251.3 1216.0) rotate(42.68)" text-anchor="start" dy="0.32em">SbWRKY26-IIe</text>
<text transform="translate(1264.0 1201.7) rotate(41.07)" text-anchor="start" dy="0.32em">MsWRKY54</text>
<text transform="translate(1276.4 1187.1) rotate(39.47)" text-anchor="start" dy="0.32em">MsWRKY140</text>
<text transform="translate(1288.3 1172.2) rotate(37.86)" text-anchor="start" dy="0.32em">MsWRKY156</text>
<text transform="translate(1299.9 1156.9) rotate(36.26)" text-anchor="start" dy="0.32em">MsWRKY178</text>
<text transform="translate(1310.9 1141.4) rotate(34.65)" text-anchor="start" dy="0.32em">MsWRKY177</text>
<text transform="translate(1321.6 1125.5) rotate(33.05)" text-anchor="start" dy="0.32em">MsWRKY172</text>
<text transform="translate(1331.8 1109.3) rotate(31.44)" text-anchor="start" dy="0.32em">MsWRKY97</text>
<text transform="translate(1341.5 1092.9) rotate(29.84)" text-anchor="start" dy="0.32em">MsWRKY96</text>
<text transform="translate(1350.8 1076.1) rotate(28.23)" text-anchor="start" dy="0.32em">MsWRKY114</text>
<text transform="translate(1359.6 1059.2) rotate(26.62)" text-anchor="start" dy="0.32em">MsWRKY117</text>
<text transform="translate(1368.0 1041.9) rotate(25.02)" text-anchor="start" dy="0.32em">MsWRKY94</text>
<text transform="translate(1375.8 1024.5) rotate(23.41)" text-anchor="start" dy="0.32em">MsWRKY93</text>
<text transform="translate(1383.2 1006.9) rotate(21.81)" text-anchor="start" dy="0.32em">MsWRKY143</text>
<text transform="translate(1390.0 989.0) rotate(20.20)" text-anchor="start" dy="0.32em">MsWRKY01</text>
<text transform="translate(1396.4 971.0) rotate(18.60)" text-anchor="start" dy="0.32em">SbWRKY1-IIe</text>
<text transform="translate(1402.2 952.8) rotate(16.99)" text-anchor="start" dy="0.32em">MsWRKY09</text>
<text transform="translate(1407.5 934.4) rotate(15.39)" text-anchor="start" dy="0.32em">MsWRKY21</text>
<text transform="translate(1412.3 915.9) rotate(13.78)" text-anchor="start" dy="0.32em">SbWRKY0-IIe</text>
<text transform="translate(1416.6 897.3) rotate(12.18)" text-anchor="start" dy="0.32em">MsWRKY173</text>
<text transform="translate(1420.4 878.5) rotate(10.57)" text-anchor="start" dy="0.32em">MsWRKY35</text>
<text transform="translate(1423.7 859.7) rotate(8.97)" text-anchor="start" dy="0.32em">SbWRKY13-III</text>
<text transform="translate(1426.4 840.7) rotate(7.36)" text-anchor="start" dy="0.32em">MsWRKY50</text>
<text transform="translate(1428.6 821.8) rotate(5.76)" text-anchor="start" dy="0.32em">SbWRKY32-IIc</text>
<text transform="translate(1430.2 802.7) rotate(4.15)" text-anchor="start" dy="0.32em">MsWRKY75</text>
<text transform="translate(1431.3 783.6) rotate(2.55)" text-anchor="start" dy="0.32em">MsWRKY165</text>
<text transform="translate(1431.9 764.5) rotate(0.94)" text-anchor="start" dy="0.32em">MsWRKY153</text>
<text transform="translate(1432.0 745.4) rotate(-0.67)" text-anchor="start" dy="0.32em">MsWRKY53</text>
<text transform="translate(1431.5 726.3) rotate(-2.27)" text-anchor="start" dy="0.32em">SbWRKY30-IIc</text>
<text transform="translate(1430.4 707.2) rotate(-3.88)" text-anchor="start" dy="0.32em">MsWRKY169</text>
<text transform="translate(1428.9 688.1) rotate(-5.48)" text-anchor="start" dy="0.32em">MsWRKY03</text>
<text transform="translate(1426.8 669.1) rotate(-7.09)" text-anchor="start" dy="0.32em">MsWRKY15</text>
<text transform="translate(1424.2 650.2) rotate(-8.69)" text-anchor="start" dy="0.32em">SbWRKY4-IIc</text>
<text transform="translate(1421.0 631.3) rotate(-10.30)" text-anchor="start" dy="0.32em">MsWRKY25</text>
<text transform="translate(1417.3 612.5) rotate(-11.90)" text-anchor="start" dy="0.32em">MsWRKY33</text>
<text transform="translate(1413.1 593.9) rotate(-13.51)" text-anchor="start" dy="0.32em">SbWRKY12-IIc</text>
<text transform="translate(1408.4 575.4) rotate(-15.11)" text-anchor="start" dy="0.32em">MsWRKY76</text>
<text transform="translate(1403.2 557.0) rotate(-16.72)" text-anchor="start" dy="0.32em">SbWRKY35-IIc</text>
<text transform="translate(1397.4 538.7) rotate(-18.32)" text-anchor="start" dy="0.32em">MsWRKY56</text>
<text transform="translate(1391.1 520.7) rotate(-19.93)" text-anchor="start" dy="0.32em">MsWRKY163</text>
<text transform="translate(1384.4 502.8) rotate(-21.53)" text-anchor="start" dy="0.32em">MsWRKY151</text>
<text transform="translate(1377.1 485.1) rotate(-23.14)" text-anchor="start" dy="0.32em">MsWRKY107</text>
<text transform="translate(1369.3 467.6) rotate(-24.74)" text-anchor="start" dy="0.32em">MsWRKY102</text>
<text transform="translate(1361.1 450.4) rotate(-26.35)" text-anchor="start" dy="0.32em">MsWRKY45</text>
<text transform="translate(1352.4 433.4) rotate(-27.96)" text-anchor="start" dy="0.32em">MsWRKY44</text>
<text transform="translate(1343.2 416.6) rotate(-29.56)" text-anchor="start" dy="0.32em">MsWRKY49</text>
<text transform="translate(1333.5 400.1) rotate(-31.17)" text-anchor="start" dy="0.32em">SbWRKY26-IIc</text>
<text transform="translate(1323.4 383.9) rotate(-32.77)" text-anchor="start" dy="0.32em">MsWRKY99</text>
<text transform="translate(1312.8 367.9) rotate(-34.38)" text-anchor="start" dy="0.32em">MsWRKY42</text>
<text transform="translate(1301.8 352.3) rotate(-35.98)" text-anchor="start" dy="0.32em">MsWRKY112</text>
<text transform="translate(1290.3 337.0) rotate(-37.59)" text-anchor="start" dy="0.32em">MsWRKY116</text>
<text transform="translate(1278.5 322.0) rotate(-39.19)" text-anchor="start" dy="0.32em">MsWRKY48</text>
<text transform="translate(1266.2 307.4) rotate(-40.80)" text-anchor="start" dy="0.32em">MsWRKY67</text>
<text transform="translate(1253.5 293.1) rotate(-42.40)" text-anchor="start" dy="0.32em">SbWRKY24-IIc</text>
<text transform="translate(1240.4 279.1) rotate(-44.01)" text-anchor="start" dy="0.32em">MsWRKY158</text>
<text transform="translate(1226.9 265.6) rotate(-45.61)" text-anchor="start" dy="0.32em">MsWRKY145</text>
<text transform="translate(1213.1 252.4) rotate(-47.22)" text-anchor="start" dy="0.32em">MsWRKY59</text>
<text transform="translate(1198.8 239.6) rotate(-48.82)" text-anchor="start" dy="0.32em">SbWRKY33-IIc</text>
<text transform="translate(1184.3 227.2) rotate(-50.43)" text-anchor="start" dy="0.32em">MsWRKY164</text>
<text transform="translate(1169.4 215.2) rotate(-52.03)" text-anchor="start" dy="0.32em">MsWRKY152</text>
<text transform="translate(1154.1 203.7) rotate(-53.64)" text-anchor="start" dy="0.32em">MsWRKY71</text>
<text transform="translate(1138.6 192.6) rotate(-55.25)" text-anchor="start" dy="0.32em">SbWRKY27-IIc</text>
<text transform="translate(1122.7 181.9) rotate(-56.85)" text-anchor="start" dy="0.32em">MsWRKY51</text>
<text transform="translate(1106.6 171.6) rotate(-58.46)" text-anchor="start" dy="0.32em">MsWRKY80</text>
<text transform="translate(1090.1 161.9) rotate(-60.06)" text-anchor="start" dy="0.32em">MsWRKY95</text>
<text transform="translate(1073.4 152.6) rotate(-61.67)" text-anchor="start" dy="0.32em">MsWRKY162</text>
<text transform="translate(1056.5 143.7) rotate(-63.27)" text-anchor="start" dy="0.32em">MsWRKY168</text>
<text transform="translate(1039.3 135.4) rotate(-64.88)" text-anchor="start" dy="0.32em">MsWRKY166</text>
<text transform="translate(1021.8 127.5) rotate(-66.48)" text-anchor="start" dy="0.32em">MsWRKY147</text>
<text transform="translate(1004.2 120.1) rotate(-68.09)" text-anchor="start" dy="0.32em">MsWRKY62</text>
<text transform="translate(986.4 113.2) rotate(-69.69)" text-anchor="start" dy="0.32em">SbWRKY20-I</text>
<text transform="translate(968.3 106.8) rotate(-71.30)" text-anchor="start" dy="0.32em">MsWRKY31</text>
<text transform="translate(950.1 101.0) rotate(-72.90)" text-anchor="start" dy="0.32em">MsWRKY05</text>
<text transform="translate(931.8 95.6) rotate(-74.51)" text-anchor="start" dy="0.32em">MsWRKY122</text>
<text transform="translate(913.3 90.7) rotate(-76.11)" text-anchor="start" dy="0.32em">SbWRKY21-I</text>
<text transform="translate(894.7 86.4) rotate(-77.72)" text-anchor="start" dy="0.32em">MsWRKY148</text>
<text transform="translate(875.9 82.6) rotate(-79.32)" text-anchor="start" dy="0.32em">MsWRKY14</text>
<text transform="translate(857.1 79.3) rotate(-80.93)" text-anchor="start" dy="0.32em">MsWRKY140</text>
<text transform="translate(838.2 76.6) rotate(-82.54)" text-anchor="start" dy="0.32em">SbWRKY18-I</text>
<text transform="translate(819.2 74.4) rotate(-84.14)" text-anchor="start" dy="0.32em">MsWRKY47</text>
<text transform="translate(800.1 72.7) rotate(-85.75)" text-anchor="start" dy="0.32em">MsWRKY46</text>
<text transform="translate(781.0 71.5) rotate(-87.35)" text-anchor="start" dy="0.32em">SbWRKY19-I</text>
<text transform="translate(761.9 70.9) rotate(-88.96)" text-anchor="start" dy="0.32em">MsWRKY60</text>
<text transform="translate(742.8 70.8) rotate(89.44)" text-anchor="end" dy="0.32em">MsWRKY11</text>
<text transform="translate(723.7 71.3) rotate(87.83)" text-anchor="end" dy="0.32em">MsWRKY113</text>
<text transform="translate(704.6 72.3) rotate(86.23)" text-anchor="end" dy="0.32em">MsWRKY83</text>
<text transform="translate(685.5 73.8) rotate(84.62)" text-anchor="end" dy="0.32em">MsWRKY79</text>
<text transform="translate(666.5 75.9) rotate(83.02)" text-anchor="end" dy="0.32em">SbWRKY28-IIb</text>
<text transform="translate(647.6 78.5) rotate(81.41)" text-anchor="end" dy="0.32em">MsWRKY106</text>
<text transform="translate(628.7 81.6) rotate(79.81)" text-anchor="end" dy="0.32em">MsWRKY08</text>
<text transform="translate(609.9 85.2) rotate(78.20)" text-anchor="end" dy="0.32em">MsWRKY87</text>
<text transform="translate(591.3 89.4) rotate(76.60)" text-anchor="end" dy="0.32em">MsWRKY78</text>
<text transform="translate(572.7 94.1) rotate(74.99)" text-anchor="end" dy="0.32em">SbWRKY29-IIb</text>
<text transform="translate(554.3 99.3) rotate(73.39)" text-anchor="end" dy="0.32em">MsWRKY04</text>
<text transform="translate(536.1 105.0) rotate(71.78)" text-anchor="end" dy="0.32em">MsWRKY63</text>
<text transform="translate(518.0 111.3) rotate(70.17)" text-anchor="end" dy="0.32em">MsWRKY111</text>
<text transform="translate(500.1 118.0) rotate(68.57)" text-anchor="end" dy="0.32em">MsWRKY170</text>
<text transform="translate(482.4 125.2) rotate(66.96)" text-anchor="end" dy="0.32em">SbWRKY22-IIb</text>
<text transform="translate(464.9 133.0) rotate(65.36)" text-anchor="end" dy="0.32em">MsWRKY120</text>
<text transform="translate(447.7 141.2) rotate(63.75)" text-anchor="end" dy="0.32em">MsWRKY154</text>
<text transform="translate(430.6 149.9) rotate(62.15)" text-anchor="end" dy="0.32em">MsWRKY85</text>
<text transform="translate(413.9 159.0) rotate(60.54)" text-anchor="end" dy="0.32em">MsWRKY69</text>
<text transform="translate(397.3 168.7) rotate(58.94)" text-anchor="end" dy="0.32em">SbWRKY76-IIb</text>
<text transform="translate(381.1 178.8) rotate(57.33)" text-anchor="end" dy="0.32em">MsWRKY88</text>
<text transform="translate(365.2 189.3) rotate(55.73)" text-anchor="end" dy="0.32em">MsWRKY144</text>
<text transform="translate(349.5 200.3) rotate(54.12)" text-anchor="end" dy="0.32em">MsWRKY29</text>
<text transform="translate(334.2 211.7) rotate(52.52)" text-anchor="end" dy="0.32em">SbWRKY17-IIa</text>
<text transform="translate(319.2 223.6) rotate(50.91)" text-anchor="end" dy="0.32em">MsWRKY39</text>
<text transform="translate(304.5 235.8) rotate(49.31)" text-anchor="end" dy="0.32em">MsWRKY30</text>
<text transform="translate(290.2 248.5) rotate(47.70)" text-anchor="end" dy="0.32em">MsWRKY40</text>
<text transform="translate(276.2 261.6) rotate(46.09)" text-anchor="end" dy="0.32em">SbWRKY14-IIa</text>
<text transform="translate(262.6 275.0) rotate(44.49)" text-anchor="end" dy="0.32em">MsWRKY16</text>
<text transform="translate(249.4 288.8) rotate(42.88)" text-anchor="end" dy="0.32em">MsWRKY36</text>
<text transform="translate(236.6 303.0) rotate(41.28)" text-anchor="end" dy="0.32em">MsWRKY179</text>
<text transform="translate(224.2 317.6) rotate(39.67)" text-anchor="end" dy="0.32em">MsWRKY174</text>
<text transform="translate(212.2 332.5) rotate(38.07)" text-anchor="end" dy="0.32em">MsWRKY105</text>
<text transform="translate(200.6 347.7) rotate(36.46)" text-anchor="end" dy="0.32em">MsWRKY101</text>
<text transform="translate(189.5 363.2) rotate(34.86)" text-anchor="end" dy="0.32em">SbWRKY14-III</text>
<text transform="translate(178.8 379.1) rotate(33.25)" text-anchor="end" dy="0.32em">MsWRKY26</text>
<text transform="translate(168.5 395.2) rotate(31.65)" text-anchor="end" dy="0.32em">MsWRKY34</text>
<text transform="translate(158.7 411.6) rotate(30.04)" text-anchor="end" dy="0.32em">MsWRKY100</text>
</g>
<text x="58.5" y="20.8" style="font-size:15.8px;font-weight:bold;fill:#111">Colored ranges</text>
<rect x="56" y="28.3" width="121.5" height="1.2" fill="#111"/>
<rect x="58.2" y="37.0" width="22" height="21" fill="#9fc5e8" stroke="#555" stroke-width="0.8"/>
<text class="lg" x="90.7" y="51.8">IIc</text>
<rect x="58.2" y="68.7" width="22" height="21" fill="#ff0000" stroke="#555" stroke-width="0.8"/>
<text class="lg" x="90.7" y="83.5">IIb</text>
<rect x="58.2" y="100.3" width="22" height="21" fill="#b4a7d6" stroke="#555" stroke-width="0.8"/>
<text class="lg" x="90.7" y="115.1">IIe</text>
<rect x="58.2" y="132.0" width="22" height="21" fill="#ffff00" stroke="#555" stroke-width="0.8"/>
<text class="lg" x="90.7" y="146.8">IIa</text>
<rect x="58.2" y="163.6" width="22" height="21" fill="#00ff00" stroke="#555" stroke-width="0.8"/>
<text class="lg" x="90.7" y="178.4">I</text>
<rect x="58.2" y="195.3" width="22" height="21" fill="#f6b26b" stroke="#555" stroke-width="0.8"/>
<text class="lg" x="90.7" y="210.1">IId</text>
<rect x="58.2" y="227.0" width="22" height="21" fill="#6aa84f" stroke="#555" stroke-width="0.8"/>
<text class="lg" x="90.7" y="241.8">III</text>
</svg></body></html>
